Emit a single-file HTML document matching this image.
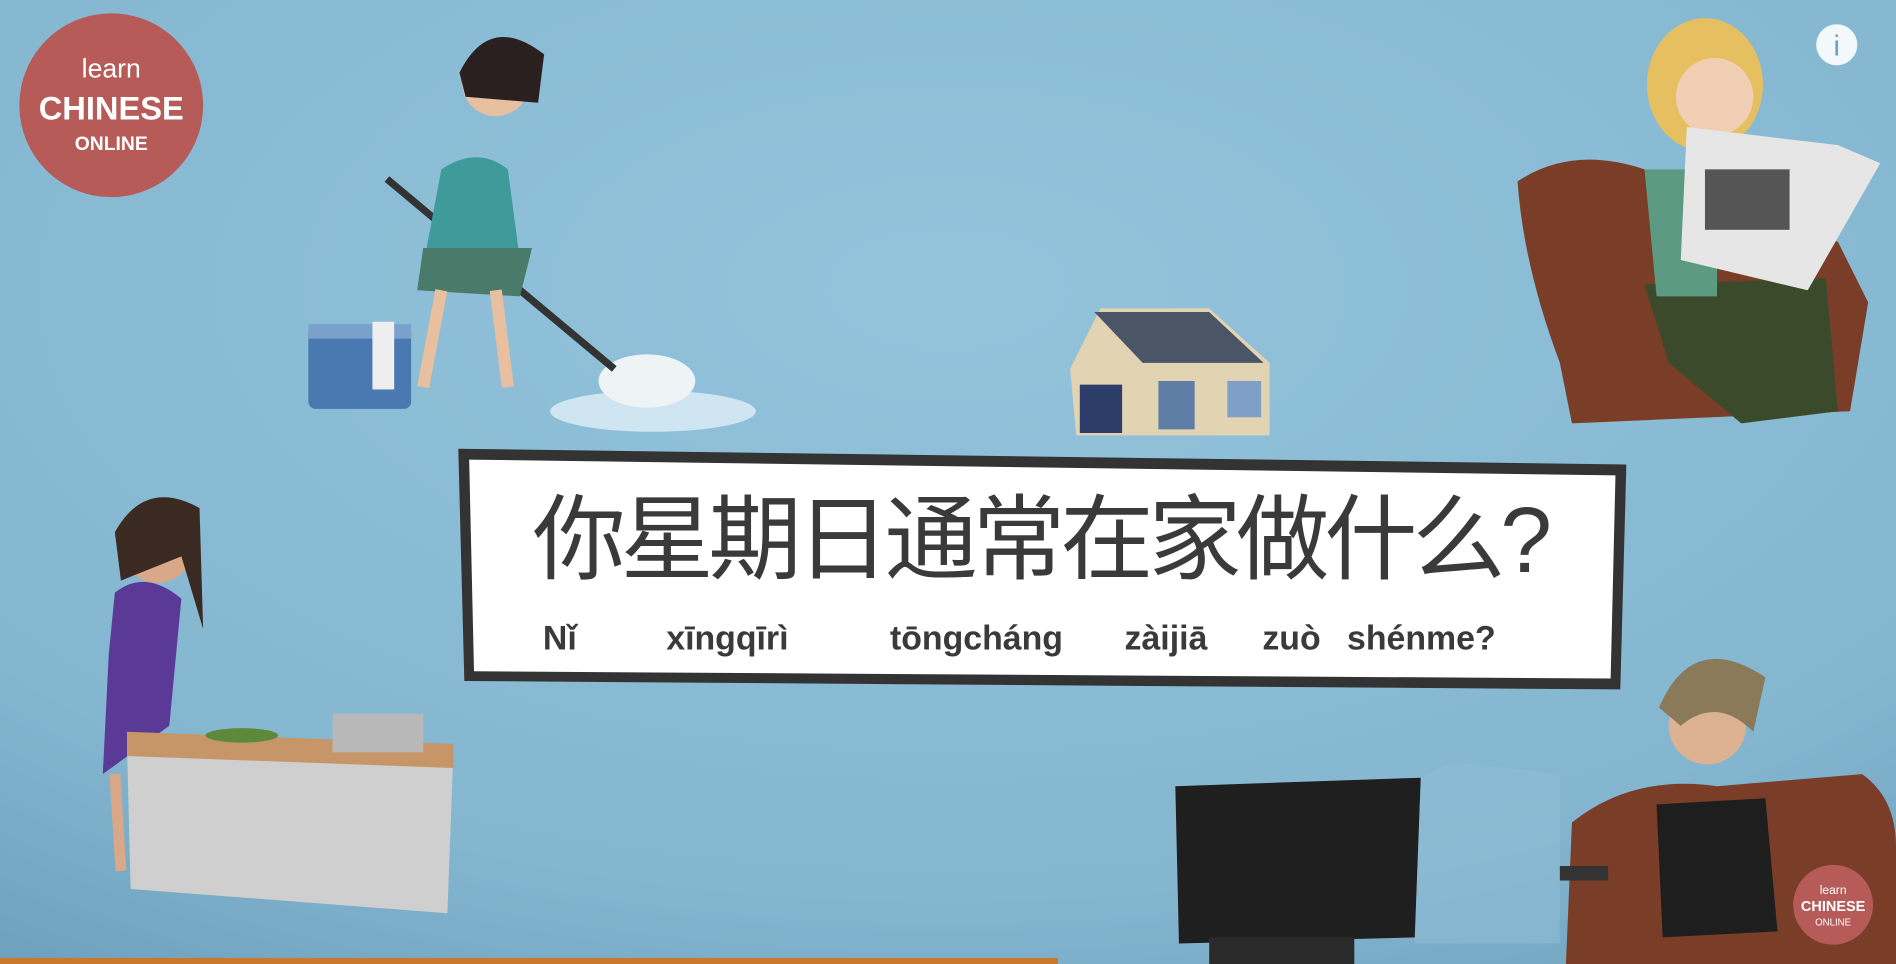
<!DOCTYPE html>
<html><head><meta charset="utf-8"><style>
html,body{margin:0;padding:0;width:1896px;height:964px;overflow:hidden;background:#86b9d3}
svg{display:block}
</style></head><body>
<svg width="1896" height="964" viewBox="0 0 1568 797" preserveAspectRatio="none">
<defs>
<radialGradient id="bg" cx="0.5" cy="0.3" r="0.9">
<stop offset="0" stop-color="#94c4dc"/><stop offset="0.7" stop-color="#84b6d0"/><stop offset="1" stop-color="#6a9dba"/>
</radialGradient>
</defs>
<rect width="1568" height="797" fill="url(#bg)"/>

<!-- logo -->
<g>
<circle cx="92" cy="87" r="76" fill="#b65b58"/>
<text x="92" y="64" fill="#fff" font-family="Liberation Sans, sans-serif" font-size="22" text-anchor="middle">learn</text>
<text x="92" y="99" fill="#fff" font-family="Liberation Sans, sans-serif" font-size="27" font-weight="bold" text-anchor="middle">CHINESE</text>
<text x="92" y="124" fill="#fff" font-family="Liberation Sans, sans-serif" font-size="16" font-weight="bold" text-anchor="middle">ONLINE</text>
</g>
<g>
<circle cx="1519" cy="37" r="17" fill="#fff" opacity="0.9"/>
<text x="1519" y="46" fill="#6aa0c0" font-family="Liberation Sans, sans-serif" font-size="24" text-anchor="middle">i</text>
</g>

<!-- mopping woman -->
<g>
<rect x="255" y="270" width="85" height="68" rx="6" fill="#4a78b0"/>
<rect x="255" y="268" width="85" height="12" fill="#7aa0cc"/>
<rect x="308" y="266" width="18" height="56" fill="#eee"/>
<ellipse cx="540" cy="340" rx="85" ry="17" fill="#cfe6f2"/>
<ellipse cx="535" cy="315" rx="40" ry="22" fill="#eef3f6"/>
<line x1="320" y1="148" x2="508" y2="305" stroke="#333" stroke-width="6"/>
<path d="M365 140 Q395 120 420 140 L430 215 L350 220 Z" fill="#3f9a9a"/>
<path d="M350 205 L440 205 L430 245 L345 240 Z" fill="#4a7a6a"/>
<path d="M365 240 L350 320 M410 240 L420 320" stroke="#e8c0a0" stroke-width="10"/>
<circle cx="410" cy="68" r="28" fill="#e8c0a0"/>
<path d="M380 60 Q405 10 450 45 L445 85 L385 80 Z" fill="#2a2020"/>
</g>

<!-- house -->
<g>
<path d="M885 305 L910 255 L1000 255 L1050 300 L1050 360 L890 360 Z" fill="#e2d3b2"/>
<path d="M905 258 L1000 258 L1045 300 L945 300 Z" fill="#4a5566"/>
<rect x="893" y="318" width="35" height="40" fill="#2d3d6a"/>
<rect x="1015" y="315" width="28" height="30" fill="#7ea0c8"/>
<rect x="958" y="315" width="30" height="40" fill="#5f7ea6"/>
</g>

<!-- reading woman -->
<g>
<path d="M1255 150 Q1300 120 1360 140 L1520 200 L1545 250 L1530 340 L1300 350 L1290 300 Q1260 220 1255 150 Z" fill="#7a3e28"/>
<path d="M1360 235 L1510 230 L1520 340 L1440 350 L1380 300 Z" fill="#3c4a2c"/>
<path d="M1360 140 L1420 140 L1420 245 L1370 245 Z" fill="#5c9a82"/>
<ellipse cx="1410" cy="70" rx="48" ry="55" fill="#e6c060"/>
<circle cx="1418" cy="80" r="32" fill="#f0cfb4"/>
<path d="M1395 105 L1520 120 L1555 135 L1495 240 L1390 215 Z" fill="#e6e6e6"/>
<rect x="1410" y="140" width="70" height="50" fill="#555"/>
</g>

<!-- cooking woman -->
<g>
<path d="M95 490 Q120 470 150 495 L140 600 L85 640 L90 540 Z" fill="#5a3a96"/>
<circle cx="130" cy="452" r="30" fill="#d8a888"/>
<path d="M95 440 Q120 395 165 420 L168 520 L150 460 L100 480 Z" fill="#3a2a22"/>
<path d="M95 640 L100 720 M120 620 L140 700" stroke="#d8a888" stroke-width="9"/>
<path d="M105 615 L375 620 L370 755 L108 735 Z" fill="#cfcfcf"/>
<path d="M105 605 L375 615 L375 635 L105 625 Z" fill="#c79668"/>
<rect x="275" y="590" width="75" height="32" fill="#b8b8b8"/>
<ellipse cx="200" cy="608" rx="30" ry="6" fill="#5c8a3a"/>
</g>

<!-- tv -->
<g>
<path d="M972 650 L1175 643 L1170 775 L975 780 Z" fill="#1f1f1f"/>
<rect x="1000" y="775" width="120" height="22" fill="#2a2a2a"/>
<path d="M1175 643 L1200 630 L1290 640 L1290 780 L1170 780 Z" fill="#8fbdd6" opacity="0.6"/>
</g>

<!-- boy in chair -->
<g>
<path d="M1300 680 Q1350 640 1420 650 L1540 640 Q1568 660 1568 700 L1568 797 L1295 797 Z" fill="#7a3e28"/>
<path d="M1370 665 L1460 660 L1470 770 L1375 775 Z" fill="#1e1e1e"/>
<rect x="1290" y="716" width="40" height="12" fill="#333"/>
<circle cx="1412" cy="600" r="32" fill="#dcb292"/>
<path d="M1372 585 Q1400 520 1460 560 L1450 605 Q1420 575 1390 600 Z" fill="#8a7a5a"/>
</g>
<g>
<circle cx="1516" cy="748" r="33" fill="#b65b58"/>
<text x="1516" y="739" fill="#fff" font-family="Liberation Sans, sans-serif" font-size="10" text-anchor="middle">learn</text>
<text x="1516" y="753" fill="#fff" font-family="Liberation Sans, sans-serif" font-size="12" font-weight="bold" text-anchor="middle">CHINESE</text>
<text x="1516" y="765" fill="#fff" font-family="Liberation Sans, sans-serif" font-size="8" text-anchor="middle">ONLINE</text>
</g>

<!-- sign -->
<g>
<path d="M379 371 L1345 384 L1340 570 L384 563 Z" fill="#333"/>
<path d="M388 380 L1336 393 L1332 561 L392 555 Z" fill="#fff"/>
<text x="862" y="473" fill="#3a3a3a" font-family="Liberation Sans, 'Noto Sans CJK SC', sans-serif" font-size="77" text-anchor="middle" textLength="843">你星期日通常在家做什么?</text>
<g font-family="Liberation Sans, sans-serif" font-size="28" font-weight="bold" fill="#3a3a3a">
<text x="449" y="537">Nǐ</text>
<text x="551" y="537">xīngqīrì</text>
<text x="736" y="537">tōngcháng</text>
<text x="930" y="537">zàijiā</text>
<text x="1044" y="537">zuò</text>
<text x="1114" y="537">shénme?</text>
</g>
</g>
<rect x="0" y="792" width="875" height="5" fill="#c9782c"/>
</svg>
</body></html>
